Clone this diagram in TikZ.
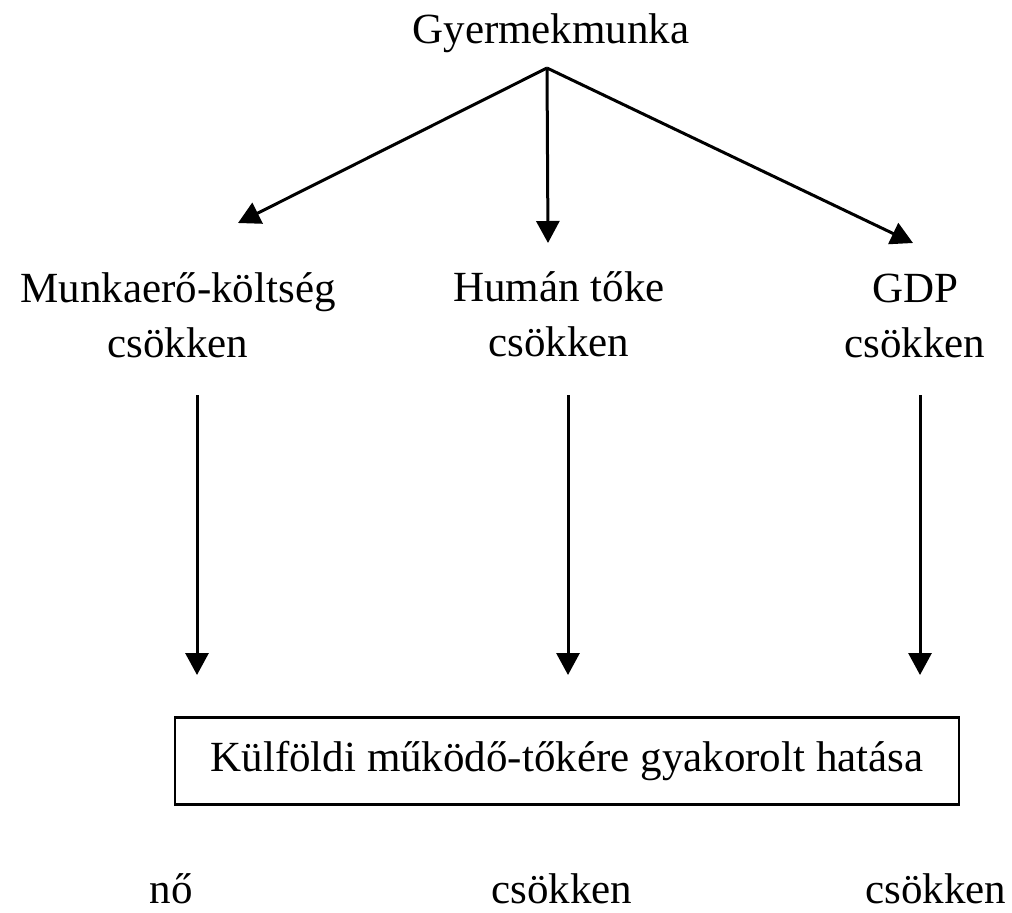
\documentclass[tikz,border=0pt]{standalone}
\usepackage{fontspec}
\setmainfont{Liberation Serif}
\usetikzlibrary{arrows.meta,positioning}

\begin{document}
\begin{tikzpicture}[x=0.5pt,y=-0.5pt,line width=1.5pt,
    lbl/.style={anchor=base,align=center,inner sep=0pt,
      font=\fontsize{21.5}{27.5}\selectfont},
    arr/.style={-{Triangle[length=11pt,width=11.5pt]}},
    hatas/.style={draw,line width=1.2pt,minimum width=392pt,minimum height=43.5pt,
      font=\fontsize{21.5}{27.5}\selectfont}]
   \useasboundingbox (0,0) rectangle (1012,912);
   % felso szint
   \node[lbl] (gyerek) at (551,43) {Gyermekmunka};
   \coordinate (csucs) at (547,68);
   \node[lbl] (munka) at (178,357) {Munkaerő-költség\\csökken};
   \node[lbl] (human) at (559,356) {Humán tőke\\csökken};
   \node[lbl] (gdp) at (915,357) {GDP\\csökken};
   \coordinate (munka_v) at (238,223);
   \coordinate (human_v) at (548,243);
   \coordinate (gdp_v) at (913,243);
   \path[arr]
    (csucs) edge (munka_v)
            edge (human_v)
            edge (gdp_v);
   % also szint
   \node[hatas] (tke) at (567,761) {Külföldi működő-tőkére gyakorolt hatása};
   \coordinate (m_k) at (197,395);  \coordinate (m_v) at (197,675);
   \coordinate (h_k) at (568,395);  \coordinate (h_v) at (568,675);
   \coordinate (g_k) at (920,395);  \coordinate (g_v) at (920,675);
   \draw[arr] (m_k) -- (m_v);
   \draw[arr] (h_k) -- (h_v);
   \draw[arr] (g_k) -- (g_v);
   \node[lbl] (no) at (171,903) {nő};
   \node[lbl] (hcs) at (562,903) {csökken};
   \node[lbl] (gcs) at (936,903) {csökken};
\end{tikzpicture}
\end{document}
